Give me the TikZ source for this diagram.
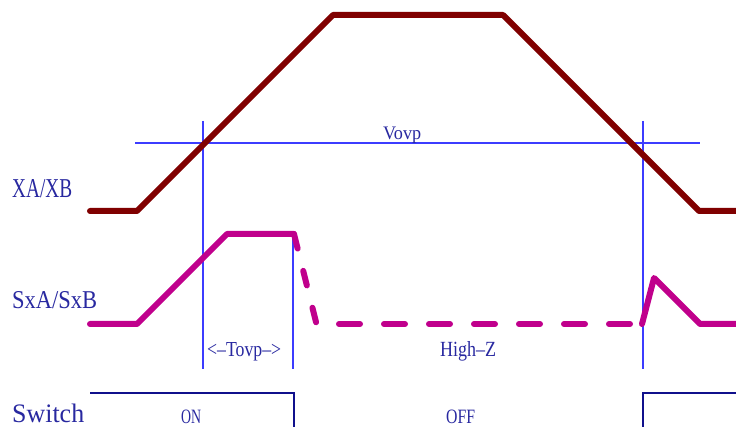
\documentclass[tikz,border=0pt]{standalone}
\usepackage{fontspec}
\setmainfont{Liberation Serif}
\usepackage{graphicx}
\definecolor{txtblue}{RGB}{40,40,160}
\definecolor{swblue}{RGB}{16,16,140}
\definecolor{thinblue}{RGB}{60,60,255}
\definecolor{xared}{RGB}{128,0,0}
\definecolor{sxmag}{RGB}{192,0,140}
\newcommand\fitlbl[3]{\resizebox{#1pt}{#2pt}{#3}}
\tikzset{
  lbl/.style={anchor=base west, inner sep=0pt, text=txtblue},
  xaline/.style={draw=xared, line width=6pt, line cap=round, line join=round},
  sxline/.style={draw=sxmag, line width=6pt, line cap=round, line join=round},
  guide/.style={draw=thinblue, line width=1.1pt},
  swline/.style={draw=swblue, line width=2pt}
}
\begin{document}
\begin{tikzpicture}[x=1pt,y=-1pt]
\useasboundingbox (0,0) rectangle (736,427);
% guide lines
\draw[guide] (135,143) -- (700,143);
\draw[guide] (203,121) -- (203,369);
\draw[guide] (293,236) -- (293,369);
\draw[guide] (643,121) -- (643,369);
% XA/XB
\draw[xaline] (90,211) -- (137,211) -- (333,15) -- (503,15) -- (699,211) -- (740,211);
% SxA/SxB
\draw[sxline] (90,324) -- (137,324) -- (227,234) -- (294,234);
\draw[sxline, dash pattern=on 15pt off 23pt] (294,234) -- (316.5,324);
\draw[sxline, dash pattern=on 21pt off 24pt] (339,324) -- (632,324);
\draw[sxline] (642,324) -- (654,278) -- (700,324) -- (740,324);
% Switch
\draw[swline] (90,392.5) -- (293.5,392.5) -- (293.5,430);
\draw[swline] (643,430) -- (643,392.5) -- (740,392.5);
% labels
\node[lbl] (lxa) at (12,198) {\fitlbl{60}{18}{XA/XB}};
\node[lbl] (lsx) at (12,309) {\fitlbl{85}{17}{SxA/SxB}};
\node[lbl] (lsw) at (12,422) {\fitlbl{72}{18.5}{Switch}};
\node[lbl] (lvovp) at (383,139.5) {\fitlbl{38}{12.5}{Vovp}};
\node[lbl] (ltovp) at (207,356.5) {\fitlbl{74}{14}{<\textendash Tovp\textendash>}};
\node[lbl] (lhz) at (440,357) {\fitlbl{56}{15}{High\textendash Z}};
\node[lbl] (lon) at (181,423.5) {\fitlbl{20}{13.5}{ON}};
\node[lbl] (loff) at (446,423.5) {\fitlbl{29}{13.5}{OFF}};
\end{tikzpicture}
\end{document}
